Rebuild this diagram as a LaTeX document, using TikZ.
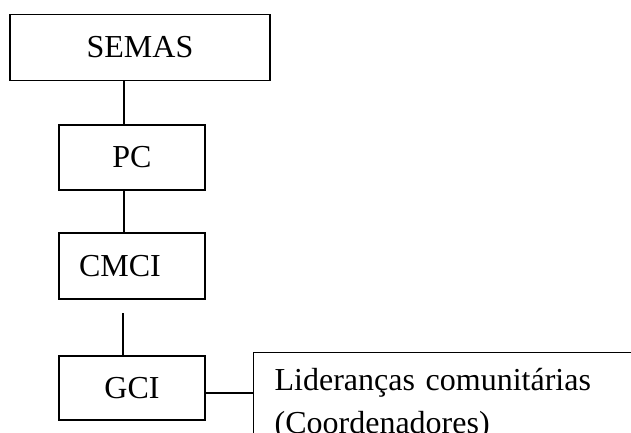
\documentclass[tikz,border=0pt]{standalone}
\usepackage{fontspec}
\setmainfont{Liberation Serif}
\begin{document}
\begin{tikzpicture}[x=1pt,y=-1pt,
  orgbox/.style={draw=black, line width=1.3pt, rectangle, inner sep=0pt,
    font=\fontsize{32}{43}\selectfont},
  conn/.style={draw=black, line width=1.3pt}]
\useasboundingbox (0,0) rectangle (631,432);
\clip (0,0) rectangle (631,432);
\node[orgbox, minimum width=260pt, minimum height=66pt] (semas) at (140,47.5) {SEMAS};
\node[orgbox, minimum width=146pt, minimum height=65pt] (pc) at (132,157.5) {PC};
\node[orgbox, minimum width=146pt, minimum height=66pt] (cmci) at (132,266) {CMCI\rule{24pt}{0pt}};
\node[orgbox, minimum width=146pt, minimum height=64pt] (gci) at (132,388) {GCI};
\node[orgbox, anchor=north west, align=left, text width=390pt, inner xsep=21pt, inner ysep=16pt] (lid) at (253,352)
  {Lideranças comunitárias\\(Coordenadores)};
\draw[conn] ([xshift=-8pt]pc.north) -- ([xshift=-8pt]pc.north |- semas.south);
\draw[conn] ([xshift=-8pt]pc.south) -- ([xshift=-8pt]pc.south |- cmci.north);
\draw[conn] ([xshift=-9pt]gci.north) -- ([xshift=-9pt,yshift=-13pt]gci.north |- cmci.south);
\draw[conn] ([yshift=-5pt]gci.east) -- ([yshift=-5pt]gci.east -| lid.west);
\end{tikzpicture}
\end{document}
